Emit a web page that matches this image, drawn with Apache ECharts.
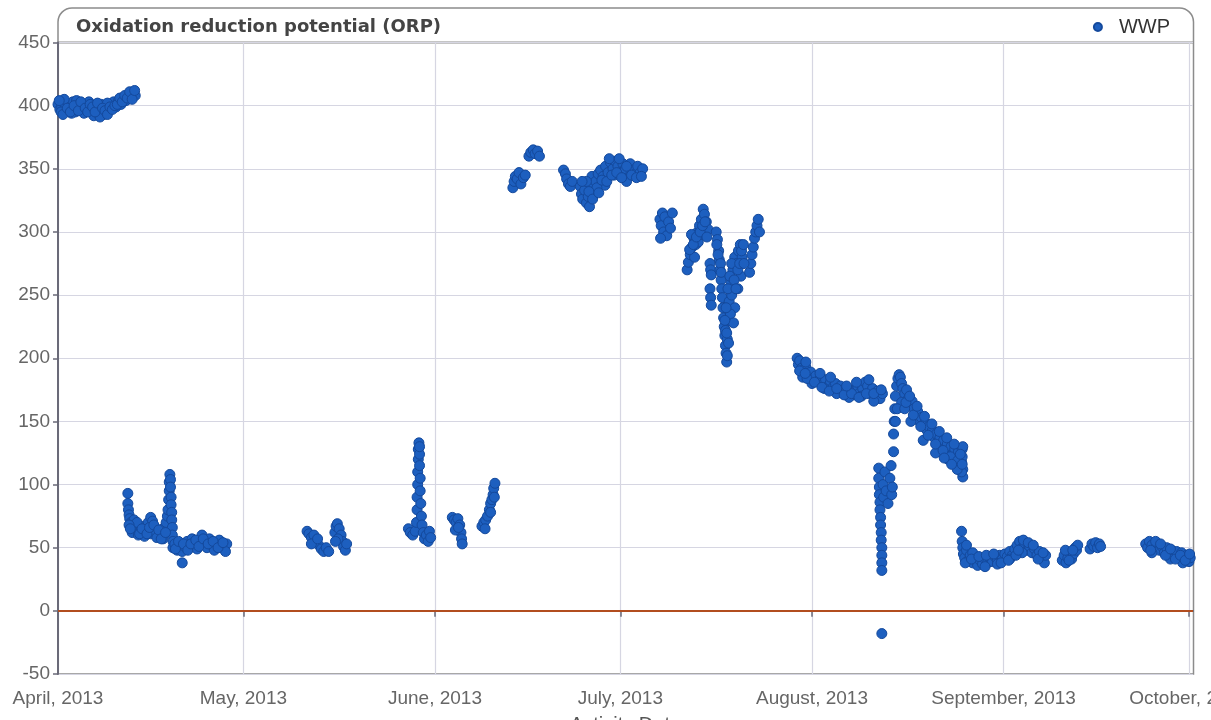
<!DOCTYPE html>
<html>
<head>
<meta charset="utf-8">
<script src="https://cdn.jsdelivr.net/npm/echarts@6/dist/echarts.min.js"></script>
<style>
html,body{margin:0;padding:0;background:#fff;}
#chart{width:1211px;height:720px;}
</style>
</head>
<body>
<div id="chart"></div>
<script>
// x values are days after April 1, 2013
const monthStarts = [0, 30, 61, 91, 122, 153, 183];
const monthLabels = ['April, 2013', 'May, 2013', 'June, 2013', 'July, 2013', 'August, 2013', 'September, 2013', 'October, 2013'];
const yMin = -50, yMax = 450, yStep = 50;
const seriesName = 'WWP';

const earlyApril = [[0,401],[0.3,397],[0.6,399],[1,402],[1.3,396],[1.7,400],[2,398],[2.4,403],[2.8,395],[3.1,399],[3.5,401],[3.9,397],[4.2,394],[4.6,400],[5,398],[5.4,396],[5.8,392],[6.2,399],[6.6,397],[7,395],[7.4,393],[7.8,398],[8.2,396],[8.6,400],[9,403],[9.4,399],[9.8,404],[10.2,401],[10.6,406],[11,404],[11.4,409],[11.8,407],[12.2,410],[12.5,408],[7,401],[8,402],[5,403],[3,404],[1,405],[0.5,395],[2.2,394],[6.8,391],
[0.2,404],[0.8,393],[1.5,398],[2,395],[2.6,400],[3.3,396],[3.7,403],[4.4,398],[4.8,395],[5.2,401],[5.6,399],[6,395],[6.4,402],[7.2,398],[7.6,396],[8,393],[8.4,399],[8.8,397],[9.2,400],[9.6,401],[10,406],[10.4,403],[10.8,408],[11.2,406],[11.6,411],[12,405],[12.4,412]];

const lateApril = [[11.3,93],[11.3,85],[11.4,80],[11.5,76],[11.6,73],[11.8,70],[12,68],[12.3,72],[12.6,66],[13,64],[13.4,67],[13.8,62],[14.2,65],[14.6,70],[15,74],[15.3,71],[15.7,66],[16.1,62],[16.5,60],[16.9,63],[17.2,66],[17.5,70],[17.7,75],[12,62],[13,60],[14,59],[15,61],[16,58],[17,57],
[17.8,80],[17.9,88],[18,95],[18,102],[18.1,108],[18.2,104],[18.2,98],[18.3,90],[18.3,84],[18.4,78],[18.4,72],[18.5,66],[18.5,60],[18.6,55],[18.6,50],
[18.9,53],[19.3,48],[19.7,52],[20.1,38],[20.1,47],[20.5,51],[20.9,55],[21.3,50],[21.7,57],[22.1,53],[22.5,49],[22.9,56],[23.3,60],[23.7,54],[24.1,50],[24.5,57],[24.9,52],[25.3,48],[25.7,53],[26.1,56],[26.5,51],[26.9,49],[27.3,53],[27.1,47],
[12.8,70],[13.2,61],[13.6,65],[14.4,61],[14.8,66],[15.5,68],[16.3,64],[16.7,57],[17.4,62],[19,49],[19.5,55],[20.3,53],[21,48],[21.5,53],[22.3,56],[22.8,51],[23.5,57],[24.3,53],[25.1,55],[25.9,50],[26.7,54],[11.5,68],[11.7,65]];

const midMay = [[40.3,63],[40.6,61],[41,58],[41.4,60],[41.8,55],[42.2,52],[42.6,49],[43,47],[43.4,50],[43.8,47],[41,53],[42,57],
[44.8,62],[45,67],[45.2,69],[45.5,65],[45.8,60],[46,55],[46.2,51],[46.5,48],[46.7,53],[45.3,57],[44.9,55]];

const lateMayJune = [[56.7,65],[57,62],[57.4,60],[57.8,63],[58,70],[58.1,80],[58.1,90],[58.2,100],[58.2,110],[58.3,120],[58.3,128],[58.4,133],[58.5,124],[58.5,115],[58.6,105],[58.6,95],[58.7,85],[58.8,75],[58.9,68],[59.1,62],[59.3,57],[59.6,60],[59.9,55],[60.1,63],[60.3,58],[58.5,130],
[63.8,74],[64.1,72],[64.4,70],[64.7,73],[65,68],[65.2,62],[65.3,57],[65.4,53],[64.3,64],[64.8,66],
[68.6,67],[68.9,70],[69.2,72],[69.5,75],[69.8,80],[70,85],[70.2,88],[70.4,92],[70.5,97],[70.7,101],[69.1,65],[70,78],[70.6,90]];

const lateJune = [[73.6,335],[73.8,340],[74,344],[74.3,342],[74.6,347],[74.9,338],[75.3,343],[75.6,345],
[76.2,360],[76.5,363],[76.9,365],[77.2,362],[77.6,364],[77.9,360],
[81.8,349],[82.1,346],[82.3,342],[82.6,338],[82.9,336],[83.2,340],
[84.5,336],[84.7,330],[84.9,326],[85.2,333],[85.5,323],[85.8,328],[86.1,338],[86.4,344],[86.7,330],[87,340],[87.4,346],[87.8,349],[88.2,344],[88.6,352],[89,347],[89.4,355],[89.8,350],[90.2,356],[90.6,352],[91,347],[91.4,354],[91.8,350],[92.2,343],[92.6,354],[93,349],[93.4,346],[93.8,352],[94.2,347],[94.6,350],[85.5,340],[86,320],[88.5,337],[90,345],[92,340],
[87.2,335],[88,341],[88.8,340],[89.6,345],[90.4,347],[91.2,343],[92,352],[92.8,345],[93.6,343],[94.4,344],[89.2,358],[90.8,358],[84.8,340],[85.9,332],[86.5,326],[87.5,331]];

const july = [[97.4,310],[97.6,305],[97.8,315],[98,300],[98.2,312],[98.5,297],[98.8,308],[99.1,303],[99.4,315],[97.5,295],
[101.8,270],[102,276],[102.3,282],[102.6,288],[102.9,295],[103.2,290],[103.5,300],[103.8,305],[104.1,310],[104.4,318],[104.6,314],[104.9,308],[105.2,302],[102.5,298],[103,280],[103.6,292],[104,298],
[105.5,275],[105.6,270],[105.7,266],[105.5,255],[105.6,248],[105.7,242],
[106.5,300],[106.7,294],[106.9,285],[107,278],[107.1,270],[107.3,262],[107.4,255],[107.5,248],[107.6,240],[107.7,232],[107.8,225],[107.9,218],[108,210],[108.1,204],[108.2,197],[108.3,202],[108.3,215],[108.4,230],
[108.6,245],[108.9,260],[109.2,270],[109.5,280],[109.8,275],[110.1,285],[110.4,290],[110.7,280],[109,250],[109.5,240],[110,255],[110.5,265],[108.8,235],[109.3,228],
[111.9,268],[112.1,275],[112.3,282],[112.5,288],[112.7,295],[112.9,300],[113.1,305],[113.3,310],[113.5,300],
[102.2,286],[102.8,290],[103.3,296],[103.9,300],[104.3,305],[104.7,308],[105,296],[106.6,290],[106.8,282],[107.2,275],[107.3,268],[108,222],[107.9,230],[108.1,240],[108.4,255],[108.7,265],[109,275],[109.4,262],[109.7,255],[110,270],[110.3,275],[110.6,285],[110.9,290],[111,275],[108.5,212],[108.2,220]];

const earlyAugust = [[119.6,200],[119.8,195],[120,198],[120.3,192],[120.6,190],[121,193],[121.4,187],[121.8,189],[122.2,184],[122.6,186],[123,182],[123.4,185],[123.8,180],[124.2,183],[124.6,178],[125,181],[125.4,177],[125.8,180],[126.2,175],[126.6,178],[127,173],[127.4,176],[127.8,172],[128.2,175],[128.6,171],[129,174],[129.4,178],[129.8,173],[130.2,176],[130.6,181],[131,178],[131.4,172],[131.8,176],[132.2,170],[132.6,174],[133,168],[133.4,172],[120.5,185],[122,180],[124,176],[126,172],[128,169],[130,170],[132,166],[121,197],[125,185],
[120,190],[121.2,184],[122.4,181],[123.6,177],[124.8,174],[126,176],[127.2,171],[128.4,172],[129.6,169],[130.8,172],[132,172],[133.2,175],[120.9,188],[123.3,188],[127.6,178],[129.2,181],[131.2,183]];

const midAugust = [[132.8,113],[132.8,105],[132.9,98],[132.9,92],[133,86],[133,80],[133.1,74],[133.1,68],[133.2,62],[133.2,56],[133.3,50],[133.3,44],[133.3,38],[133.3,32],[133.3,-18],[133.5,100],[133.6,90],[133.8,110],[134,95],[134.3,85],[134.6,105],[134.8,115],[134.9,92],[135,98],[135.2,126],[135.2,140],[135.3,150],[135.4,160],[135.5,170],[135.7,178],[135.9,184],[136.1,187],[136.3,185],[136.5,180],[136.7,176],[137,172],[137.3,175],[137.6,168],[137.9,163],[138.2,166],[138.5,160],[138.8,155],[139.1,158],[139.4,150],[139.7,153],[140,146],[140.3,149],[140.6,143],[140.9,146],[141.2,140],[141.5,143],[141.8,137],[142.1,140],[142.4,134],[142.7,137],[143,131],[143.3,135],[143.6,128],[143.9,132],[144.2,126],[144.5,130],[144.8,124],[145.1,128],[145.4,122],[145.7,126],[146,120],[146.3,128],[146.4,112],[146.4,106],[146.2,118],[145.9,115],[144,120],[142,125],[140,135],[138,150],[136.5,165],[135.8,160],[135.5,150],[145.2,118],[146.4,130],[146.3,122],[137,160],
[137.2,165],[138.4,155],[139.6,146],[140.8,139],[142,132],[143.2,127],[144.4,122],[145.6,119],[146.2,110],[137.8,170],[139,162],[140.2,154],[141.4,148],[142.6,142],[143.8,137],[145,132],[146,124],[145.5,112],[144.6,116],[143.4,121],[146.3,116]];

const september = [[146.2,63],[146.3,55],[146.4,50],[146.5,45],[146.7,42],[147,48],[147.3,40],[147.6,44],[148,38],[148.4,42],[148.8,36],[149.2,40],[149.6,37],[150,41],[150.4,38],[150.8,42],[151.2,39],[151.6,43],[152,40],[152.4,44],[152.8,41],[153.2,45],[153.6,43],[154,47],[154.4,44],[154.8,49],[155.2,52],[155.6,55],[156,50],[156.4,53],[156.8,48],[157.2,51],[157.6,46],[158,49],[158.4,44],[158.8,47],[159.2,42],[159.6,38],[159.8,44],[147,52],[148,46],[150,35],[152,37],[154,41],[156,46],
[162.5,40],[162.8,44],[163.1,38],[163.4,42],[163.7,46],[164,41],[164.3,45],[164.6,50],[164.8,48],[165,52],[163,48],
[167,49],[167.3,53],[167.6,51],[167.9,54],[168.2,50],[168.5,53],[168.7,51],
[176,53],[176.3,50],[176.6,55],[177,52],[177.4,49],[177.8,53],[178.2,48],[178.6,51],[179,46],[179.4,50],[179.8,45],[180.2,48],[180.6,44],[181,47],[181.4,42],[181.8,46],[182.2,41],[182.6,44],[183,39],[183.2,42],[177,46],[180,41],[182,38],
[146.8,38],[147.8,41],[149,43],[150.2,44],[151.4,45],[152.6,38],[153.8,40],[155,44],[156.2,56],[157,54],[155.4,48],[157.8,52],[158.6,41],[159.4,46],[163.6,40],[164.2,48],[176.8,48],[177.6,55],[178.4,53],[179.2,44],[180,49],[180.8,41],[181.6,44],[182.4,40],[183.1,45]];

const allPoints = [].concat(earlyApril, lateApril, midMay, lateMayJune, lateJune, july, earlyAugust, midAugust, september);

const chart = echarts.init(document.getElementById('chart'));
chart.setOption({
  animation: false,
  backgroundColor: '#fff',
  title: {
    text: 'Oxidation reduction potential (ORP)',
    left: 71, top: 13,
    textStyle: { fontFamily: 'DejaVu Sans', fontSize: 18, fontWeight: 'bold', color: '#444' }
  },
  legend: {
    right: 36, top: 12,
    icon: 'circle', itemWidth: 8, itemHeight: 8, itemGap: 6,
    textStyle: { fontFamily: 'Liberation Sans', fontSize: 20, color: '#333', padding: [0, 0, 0, 12] },
    data: [seriesName]
  },
  graphic: [
    { type: 'rect', silent: true, z: 0,
      shape: { x: 58, y: 8, width: 1135.5, height: 666, r: [14, 14, 0, 0] },
      style: { fill: 'none', stroke: '#8c8c8c', lineWidth: 1.5 } },
    { type: 'line', silent: true, z: 0,
      shape: { x1: 58, y1: 42.5, x2: 1193.5, y2: 42.5 },
      style: { stroke: '#8c8c8c', lineWidth: 2 } }
  ],
  grid: { left: 58, right: 18, top: 42.5, bottom: 46, containLabel: false, outerBoundsMode: 'none' },
  xAxis: {
    type: 'value', min: 0, max: 183.65,
    name: 'Activity Date', nameLocation: 'middle', nameGap: 41,
    nameTextStyle: { fontFamily: 'Liberation Sans', fontSize: 20, color: '#555' },
    axisLine: { show: true, lineStyle: { color: '#6a6a78', width: 2 } },
    axisTick: { show: true, length: 6, customValues: monthStarts, lineStyle: { color: '#6a6a78', width: 1.5 } },
    axisLabel: {
      customValues: monthStarts, margin: 15,
      fontFamily: 'Liberation Sans', fontSize: 19, color: '#666',
      formatter: function (v) { const i = monthStarts.indexOf(Math.round(v)); return i >= 0 ? monthLabels[i] : ''; }
    },
    splitLine: { show: true, lineStyle: { color: '#d6d6e2', width: 1.2 } }
  },
  yAxis: {
    type: 'value', min: yMin, max: yMax, interval: yStep,
    axisLine: { show: true, lineStyle: { color: '#6a6a78', width: 2 } },
    axisTick: { show: true, length: 5, lineStyle: { color: '#6a6a78', width: 1.5 } },
    axisLabel: { margin: 8, fontFamily: 'Liberation Sans', fontSize: 19, color: '#666' },
    splitLine: { show: true, lineStyle: { color: '#d6d6e2', width: 1.2 } }
  },
  series: [{
    name: seriesName,
    type: 'scatter',
    symbol: 'circle',
    symbolSize: 10,
    itemStyle: { color: '#1d5fbf', borderColor: '#14499c', borderWidth: 1, opacity: 1 },
    data: allPoints,
    markLine: {
      silent: true, symbol: 'none', label: { show: false },
      lineStyle: { color: '#b24d1f', width: 2, type: 'solid' },
      data: [{ yAxis: 0 }]
    },
    z: 3
  }]
});
</script>
</body>
</html>
